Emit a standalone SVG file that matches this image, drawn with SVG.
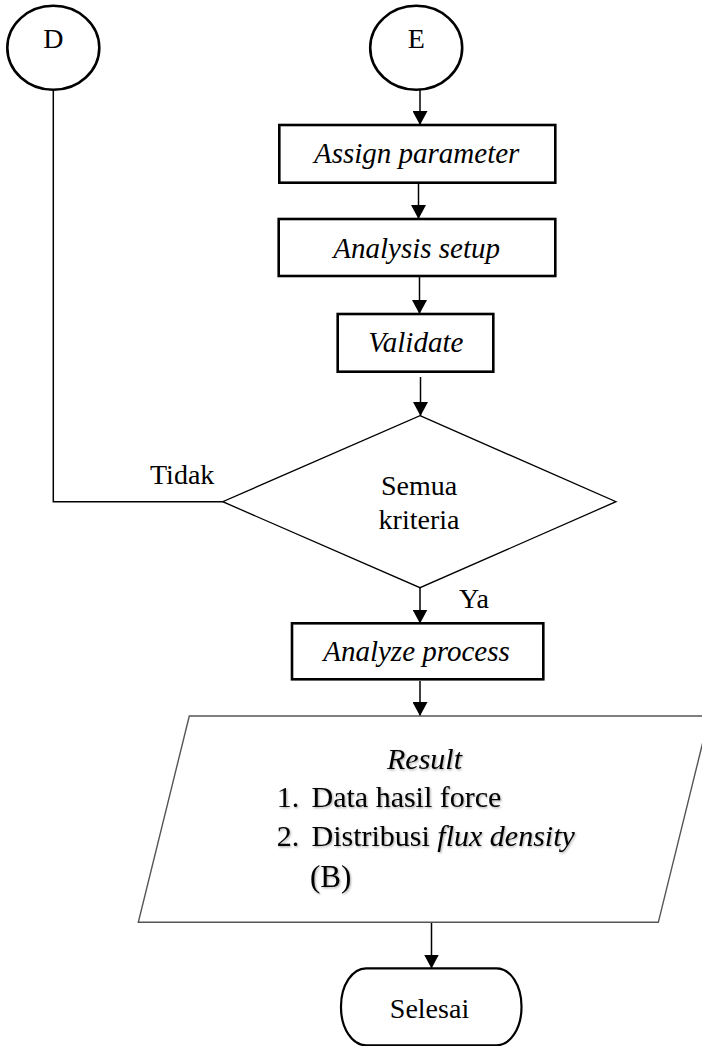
<svg xmlns="http://www.w3.org/2000/svg" width="702" height="1046" viewBox="0 0 702 1046">
  <style>
    .bg { fill: #ffffff; }
    .conn { fill: none; stroke: #000; stroke-width: 1.5; }
    .proc { fill: #fff; stroke: #000; stroke-width: 2.6; }
    .circ { fill: #fff; stroke: #000; stroke-width: 2.6; }
    .dec { fill: #fff; stroke: #000; stroke-width: 1.3; }
    .io { fill: #fff; stroke: #555; stroke-width: 1.4; }
    .term { fill: #fff; stroke: #000; stroke-width: 2.2; }
    .t { font-family: "Liberation Serif", "Times New Roman", serif; font-size: 28px; fill: #000; }
    .ti { font-family: "Liberation Serif", "Times New Roman", serif; font-size: 29px; font-style: italic; fill: #000; }
    .tl { font-family: "Liberation Serif", "Times New Roman", serif; font-size: 30px; fill: #000; }
    .mid { text-anchor: middle; }
  </style>
  <defs>
    <marker id="arrow" markerUnits="userSpaceOnUse" markerWidth="14" markerHeight="15" refX="14" refY="7.5" orient="auto">
      <path d="M0,0 L14,7.5 L0,15 Z" fill="#000"/>
    </marker>
    <filter id="soft" x="-5%" y="-20%" width="115%" height="150%">
      <feDropShadow dx="1" dy="1.2" stdDeviation="0.8" flood-color="#000" flood-opacity="0.35"/>
    </filter>
  </defs>

  <rect class="bg" x="0" y="0" width="702" height="1046"/>

  <!-- connectors -->
  <g id="connectors">
    <line class="conn" x1="420" y1="90" x2="420" y2="125" marker-end="url(#arrow)"/>
    <line class="conn" x1="418.5" y1="183" x2="418.5" y2="219" marker-end="url(#arrow)"/>
    <line class="conn" x1="419.5" y1="277" x2="419.5" y2="314" marker-end="url(#arrow)"/>
    <line class="conn" x1="420.5" y1="377" x2="420.5" y2="416" marker-end="url(#arrow)"/>
    <line class="conn" x1="420" y1="588" x2="420" y2="623.5" marker-end="url(#arrow)"/>
    <line class="conn" x1="420" y1="681" x2="420" y2="716" marker-end="url(#arrow)"/>
    <line class="conn" x1="431.5" y1="922.5" x2="431.5" y2="968.5" marker-end="url(#arrow)"/>
    <polyline class="conn" points="53.3,90 53.3,501.7 222.7,501.7"/>
    <text class="t" x="150" y="484">Tidak</text>
    <text class="t" x="459" y="607.5">Ya</text>
  </g>

  <!-- connector D -->
  <g id="node-d">
    <ellipse class="circ" cx="53.3" cy="47.8" rx="46" ry="42"/>
    <text class="t mid" x="53.3" y="48.3">D</text>
  </g>

  <!-- connector E -->
  <g id="node-e">
    <ellipse class="circ" cx="416.2" cy="47.8" rx="46" ry="42"/>
    <text class="t mid" x="416.2" y="48.3">E</text>
  </g>

  <g id="node-assign">
    <rect class="proc" x="279.3" y="125" width="276" height="57.7"/>
    <text class="ti mid" x="416.7" y="163.3">Assign parameter</text>
  </g>

  <g id="node-setup">
    <rect class="proc" x="278.7" y="219" width="276.6" height="57"/>
    <text class="ti mid" x="416.7" y="257.7">Analysis setup</text>
  </g>

  <g id="node-validate">
    <rect class="proc" x="337.7" y="314" width="155.6" height="57.7"/>
    <text class="ti mid" x="415.8" y="351.7">Validate</text>
  </g>

  <g id="node-criteria">
    <polygon class="dec" points="420,415.7 616,501.7 420,587.7 222.7,501.7"/>
    <text class="t mid" x="419" y="495">Semua</text>
    <text class="t mid" x="419" y="528.6">kriteria</text>
  </g>

  <g id="node-analyze">
    <rect class="proc" x="292" y="623.3" width="251.3" height="56"/>
    <text class="ti mid" x="416.5" y="660.6">Analyze process</text>
  </g>

  <g id="node-result">
    <polygon class="io" points="189.3,716 709.3,716 658.3,922.3 138.3,922.3"/>
    <g filter="url(#soft)">
      <text class="ti mid" x="424.5" y="769" style="font-size:30px">Result</text>
      <text class="tl" x="276.7" y="807.3">1.</text>
      <text class="tl" x="311.5" y="807.3">Data hasil force</text>
      <text class="tl" x="276.7" y="846">2.</text>
      <text class="tl" x="311.5" y="846">Distribusi <tspan font-style="italic">flux density</tspan></text>
      <text class="tl" x="310" y="886.7" style="font-size:31px">(B)</text>
    </g>
  </g>

  <g id="node-end">
    <rect class="term" x="341" y="968.3" width="180.5" height="77" rx="25" ry="38"/>
    <text class="t mid" x="429.5" y="1018.3">Selesai</text>
  </g>
</svg>
